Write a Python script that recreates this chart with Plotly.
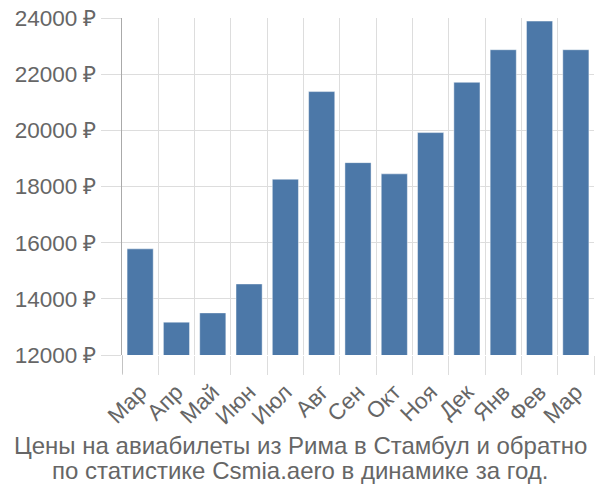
import plotly.graph_objects as go

months = ["Мар", "Апр", "Май", "Июн", "Июл", "Авг", "Сен", "Окт", "Ноя", "Дек", "Янв", "Фев", "Мар"]
prices = [15780, 13170, 13500, 14530, 18260, 21380, 18850, 18450, 19920, 21710, 22870, 23890, 22870]
y_ticks = [12000, 14000, 16000, 18000, 20000, 22000, 24000]
y_tick_text = [f"{v} ₽" for v in y_ticks]
title_lines = ["Цены на авиабилеты из Рима в Стамбул и обратно",
               "по статистике Csmia.aero в динамике за год."]

x_idx = list(range(len(months)))

W, H = 600, 500
PLOT_LEFT, PLOT_RIGHT = 122, 594
PLOT_TOP, PLOT_BOTTOM = 14, 355
PLOT_H = PLOT_BOTTOM - PLOT_TOP
PLOT_W = PLOT_RIGHT - PLOT_LEFT
title_x = (W / 2 - PLOT_LEFT) / PLOT_W

fig = go.Figure()
fig.add_trace(go.Bar(
    x=x_idx, y=prices, width=0.72,
    marker=dict(color="#4c78a8", line=dict(color="rgba(255,255,255,0.45)", width=1)),
    hoverinfo="skip",
))

font = dict(family="Liberation Sans, Arial, sans-serif", size=22.5, color="#666666")
title_font = dict(family="Liberation Sans, Arial, sans-serif", size=24, color="#666666")

fig.update_layout(
    width=W, height=H,
    margin=dict(l=PLOT_LEFT, r=W - PLOT_RIGHT, t=PLOT_TOP, b=H - PLOT_BOTTOM),
    plot_bgcolor="white", paper_bgcolor="white",
    showlegend=False,
    font=font,
    xaxis=dict(
        range=[-0.5, len(months) - 0.5],
        tickvals=x_idx, ticktext=months, tickangle=-45,
        showgrid=False, zeroline=False,
        ticks="outside", ticklen=14, tickcolor="rgba(0,0,0,0)",
        minor=dict(tick0=0.5, dtick=1, showgrid=True, gridcolor="#dddddd", gridwidth=1,
                   ticks="outside", ticklen=19, tickcolor="#dddddd"),
        showline=False,
        tickfont=font,
    ),
    yaxis=dict(
        range=[12000, 24000],
        tickvals=y_ticks, ticktext=y_tick_text,
        showgrid=True, gridcolor="#dddddd", gridwidth=1,
        ticks="outside", ticklen=20, tickcolor="#dddddd",
        showline=True, linecolor="#aaaaaa", linewidth=1,
        zeroline=False,
        tickfont=font,
    ),
    shapes=[dict(type="line", xref="x", x0=-0.5, x1=-0.5, yref="paper", y0=0, y1=-19 / PLOT_H,
                 line=dict(color="#aaaaaa", width=1))],
    annotations=[
        dict(text=title_lines[0], x=title_x, xref="paper", y=-(447 - PLOT_BOTTOM) / PLOT_H, yref="paper",
             showarrow=False, font=title_font, xanchor="center", yanchor="middle"),
        dict(text=title_lines[1], x=title_x, xref="paper", y=-(472 - PLOT_BOTTOM) / PLOT_H, yref="paper",
             showarrow=False, font=title_font, xanchor="center", yanchor="middle"),
    ],
)

fig.write_html("out.html")
